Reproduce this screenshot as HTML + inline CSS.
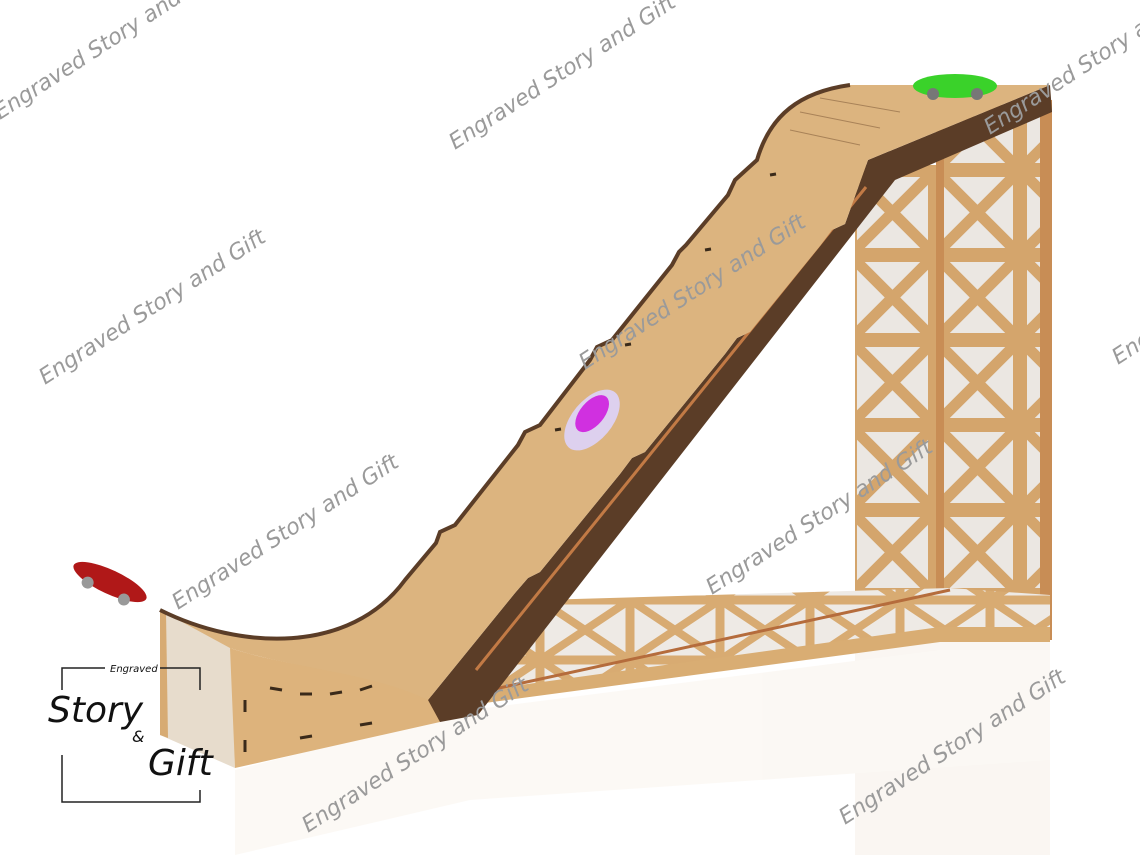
<!DOCTYPE html>
<html><head><meta charset="utf-8"><style>
html,body{margin:0;padding:0;background:#fff;}
svg{display:block}
.wm{font-family:"DejaVu Sans","Liberation Sans",sans-serif;font-style:italic;font-size:22px;fill:#9a9a9a;}
</style></head><body>
<svg width="1140" height="855" viewBox="0 0 1140 855" xmlns="http://www.w3.org/2000/svg">
<defs>
<pattern id="lat" width="85" height="85" patternUnits="userSpaceOnUse">
<rect width="85" height="85" fill="#ebe7e2"/>
<path d="M0,0 L85,85 M85,0 L0,85" stroke="#d4a56c" stroke-width="11"/>
<rect x="0" y="0" width="85" height="85" fill="none" stroke="#d4a56c" stroke-width="14"/>
</pattern>
<pattern id="lat2" width="90" height="60" patternUnits="userSpaceOnUse">
<rect width="90" height="60" fill="#eeeae5"/>
<path d="M0,0 L90,60 M90,0 L0,60" stroke="#d8ab72" stroke-width="8"/>
<rect width="90" height="60" fill="none" stroke="#d8ab72" stroke-width="9"/>
</pattern>
</defs>
<g opacity="0.08">
<rect x="855" y="640" width="195" height="215" fill="#c99a62"/>
<path d="M235,770 L470,710 L940,650 L1050,650 L1050,760 L470,800 L235,855 Z" fill="#d9b07a"/>
</g>
<rect x="855" y="165" width="88" height="475" fill="url(#lat)"/>
<rect x="940" y="105" width="112" height="535" fill="url(#lat)"/>
<rect x="936" y="110" width="8" height="530" fill="#c88d55"/>
<rect x="1040" y="100" width="12" height="540" fill="#c88d55"/>
<path d="M470,700 L940,640 L1050,640 L1050,595 L950,588 L540,600 L470,660 Z" fill="url(#lat2)"/>
<path d="M470,705 L940,642 L1050,642 L1050,627 L940,627 L470,692 Z" fill="#d9ad73"/>
<line x1="490" y1="690" x2="950" y2="590" stroke="#b56c3c" stroke-width="3"/>
<path d="M160,610 L232,648 L235,768 L160,735 Z" fill="#e7dccc"/>
<path d="M160,610 L166,612 L168,738 L160,735 Z" fill="#d7ab73"/>
<path d="M230,648 C290,668 370,672 430,690 L440,722 L235,768 Z" fill="#ddb37c"/>
<g stroke="#3a2a1a" stroke-width="3">
<line x1="245" y1="700" x2="245" y2="712"/><line x1="270" y1="688" x2="282" y2="690"/><line x1="300" y1="694" x2="312" y2="694"/>
<line x1="330" y1="694" x2="342" y2="692"/><line x1="360" y1="690" x2="372" y2="686"/><line x1="390" y1="680" x2="402" y2="676"/>
<line x1="245" y1="740" x2="245" y2="752"/><line x1="300" y1="738" x2="312" y2="736"/><line x1="360" y1="725" x2="372" y2="723"/>
</g>
<path d="M428,700 L515,593 L528,578 L540,572 L620,474 L632,458 L645,452 L725,354 L737,338 L750,332 L820,246 L832,230 L845,224 L868,160 L1050,85 L1052,112 L895,180 L478,715 L440,722 Z" fill="#5b3d27"/>
<line x1="476" y1="670" x2="866" y2="187" stroke="#c27a45" stroke-width="3"/>
<path d="M160,610 C240,650 350,655 405,580 L436,543 L440,532 L455,525 L518,445 L525,432 L540,425 L590,360 L597,347 L612,340 L672,265 L679,252 L686,245 L728,195 L735,180 L757,160 C770,115 800,92 850,85 L1050,85 L868,160 L845,224 L832,230 L820,246 L750,332 L737,338 L725,354 L645,452 L632,458 L620,474 L540,572 L528,578 L515,593 L428,700 C370,672 290,668 230,648 Z" fill="#dcb47f"/>
<path d="M160,610 C240,650 350,655 405,580 L436,543 L440,532 L455,525 L518,445 L525,432 L540,425 L590,360 L597,347 L612,340 L672,265 L679,252 L686,245 L728,195 L735,180 L757,160 C770,115 800,92 850,85" fill="none" stroke="#5b3d27" stroke-width="4"/>
<g stroke="#a88258" stroke-width="1"><line x1="800" y1="112" x2="880" y2="128"/><line x1="790" y1="130" x2="860" y2="145"/><line x1="820" y1="98" x2="900" y2="112"/></g>
<g stroke="#3a2a1a" stroke-width="3"><line x1="770" y1="175" x2="776" y2="174"/><line x1="705" y1="250" x2="711" y2="249"/><line x1="625" y1="345" x2="631" y2="344"/><line x1="555" y1="430" x2="561" y2="429"/></g>
<g transform="translate(110,582) rotate(25)"><ellipse cx="0" cy="0" rx="40" ry="12" fill="#b01818"/><circle cx="-20" cy="10" r="6" fill="#999"/><circle cx="20" cy="10" r="6" fill="#999"/></g>
<g transform="translate(592,420) rotate(-50)"><ellipse cx="0" cy="0" rx="36" ry="20" fill="#ddd0ee"/><ellipse cx="5" cy="-4" rx="22" ry="12" fill="#d030e0"/></g>
<g transform="translate(955,86)"><ellipse cx="0" cy="0" rx="42" ry="12" fill="#3ad22a"/><circle cx="-22" cy="8" r="6" fill="#777"/><circle cx="22" cy="8" r="6" fill="#777"/></g>
<g class="wm">
<text transform="translate(0,120) rotate(-33)">Engraved Story and Gift</text>
<text transform="translate(455,150) rotate(-33)">Engraved Story and Gift</text>
<text transform="translate(45,385) rotate(-33)">Engraved Story and Gift</text>
<text transform="translate(178,610) rotate(-33)">Engraved Story and Gift</text>
<text transform="translate(585,370) rotate(-33)">Engraved Story and Gift</text>
<text transform="translate(712,595) rotate(-33)">Engraved Story and Gift</text>
<text transform="translate(308,833) rotate(-33)">Engraved Story and Gift</text>
<text transform="translate(845,825) rotate(-33)">Engraved Story and Gift</text>
<text transform="translate(990,135) rotate(-33)">Engraved Story and Gift</text>
<text transform="translate(1118,365) rotate(-33)">Engraved Story and Gift</text>
</g>
<g stroke="#222" stroke-width="1.5" fill="none">
<path d="M62,690 L62,668 L105,668 M160,668 L200,668 L200,690"/>
<path d="M62,755 L62,802 L200,802 L200,790"/>
</g>
<g font-family="DejaVu Sans,sans-serif" font-style="italic" fill="#111">
<text x="110" y="672" font-size="10">Engraved</text>
<text x="48" y="722" font-size="36">Story</text>
<text x="132" y="742" font-size="16">&amp;</text>
<text x="148" y="775" font-size="36">Gift</text>
</g>
</svg>
</body></html>
